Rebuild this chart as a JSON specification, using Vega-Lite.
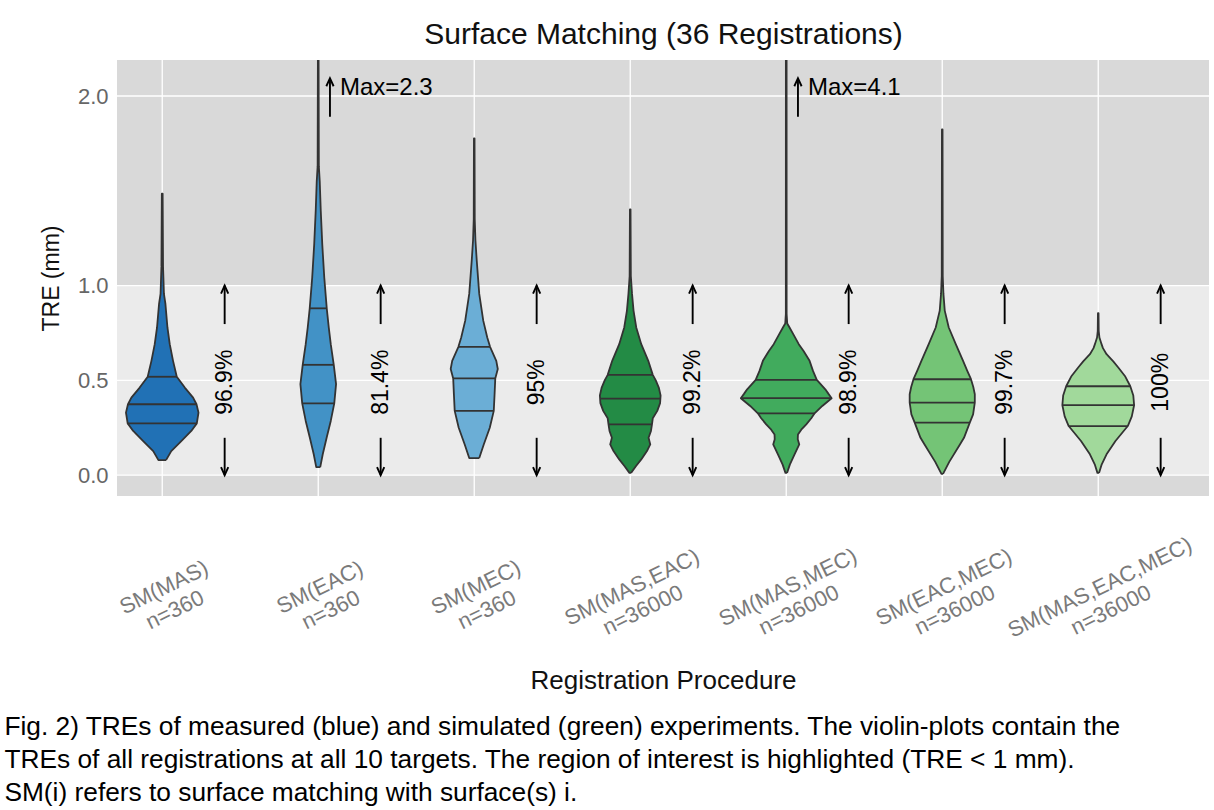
{
"$schema": "https://vega.github.io/schema/vega-lite/v6.json",
"width": 1214, "height": 810,
"autosize": {"type": "fit", "contains": "padding"},
"padding": {"left": 4, "right": 4, "top": 19, "bottom": 4},
"background": "white",
"title": {"text": ["Fig. 2) TREs of measured (blue) and simulated (green) experiments. The violin-plots contain the", "TREs of all registrations at all 10 targets. The region of interest is highlighted (TRE < 1 mm).", "SM(i) refers to surface matching with surface(s) i."], "orient": "bottom", "anchor": "start", "frame": "bounds", "font": "Liberation Sans", "fontSize": 26.3, "fontWeight": "normal", "color": "#000000", "lineHeight": 33, "offset": 20, "dx": -36},
"datasets": {
"band": [{"v": 0, "v2": 1}],
"grid": [{"v": 0}, {"v": 0.5}, {"v": 1}, {"v": 2}],
"groups": [{"g": "MAS", "pct": "96.9%"}, {"g": "EAC", "pct": "81.4%"}, {"g": "MEC", "pct": "95%"}, {"g": "MAS,EAC", "pct": "99.2%"}, {"g": "MAS,MEC", "pct": "98.9%"}, {"g": "EAC,MEC", "pct": "99.7%"}, {"g": "MAS,EAC,MEC", "pct": "100%"}],
"arrows": [
{"g": "MAS", "v": 0.797, "v2": 1.0, "head": "up"}, {"g": "MAS", "v": 0.197, "v2": 0, "head": "down"},
{"g": "EAC", "v": 0.797, "v2": 1.0, "head": "up"}, {"g": "EAC", "v": 0.197, "v2": 0, "head": "down"},
{"g": "MEC", "v": 0.797, "v2": 1.0, "head": "up"}, {"g": "MEC", "v": 0.197, "v2": 0, "head": "down"},
{"g": "MAS,EAC", "v": 0.797, "v2": 1.0, "head": "up"}, {"g": "MAS,EAC", "v": 0.197, "v2": 0, "head": "down"},
{"g": "MAS,MEC", "v": 0.797, "v2": 1.0, "head": "up"}, {"g": "MAS,MEC", "v": 0.197, "v2": 0, "head": "down"},
{"g": "EAC,MEC", "v": 0.797, "v2": 1.0, "head": "up"}, {"g": "EAC,MEC", "v": 0.197, "v2": 0, "head": "down"},
{"g": "MAS,EAC,MEC", "v": 0.797, "v2": 1.0, "head": "up"}, {"g": "MAS,EAC,MEC", "v": 0.197, "v2": 0, "head": "down"}],
"maxes": [{"g": "EAC", "v": 1.89, "v2": 2.094, "head": "up", "txt": "Max=2.3"}, {"g": "MAS,MEC", "v": 1.89, "v2": 2.094, "head": "up", "txt": "Max=4.1"}],
"vio": [
{"g":"MAS","v":0.079,"w":0.038},{"g":"MAS","v":0.127,"w":0.09},{"g":"MAS","v":0.18,"w":0.19},{"g":"MAS","v":0.233,"w":0.29},{"g":"MAS","v":0.273,"w":0.345},{"g":"MAS","v":0.33,"w":0.362},{"g":"MAS","v":0.374,"w":0.342},{"g":"MAS","v":0.409,"w":0.308},{"g":"MAS","v":0.462,"w":0.225},{"g":"MAS","v":0.519,"w":0.145},{"g":"MAS","v":0.603,"w":0.108},{"g":"MAS","v":0.691,"w":0.075},{"g":"MAS","v":0.779,"w":0.052},{"g":"MAS","v":0.903,"w":0.032},{"g":"MAS","v":0.956,"w":0.017},{"g":"MAS","v":1.1,"w":0.008},{"g":"MAS","v":1.485,"w":0.004},
{"g":"MAS","v":1.485,"w":-0.004},{"g":"MAS","v":1.1,"w":-0.008},{"g":"MAS","v":0.956,"w":-0.017},{"g":"MAS","v":0.903,"w":-0.032},{"g":"MAS","v":0.779,"w":-0.052},{"g":"MAS","v":0.691,"w":-0.075},{"g":"MAS","v":0.603,"w":-0.108},{"g":"MAS","v":0.519,"w":-0.145},{"g":"MAS","v":0.462,"w":-0.225},{"g":"MAS","v":0.409,"w":-0.308},{"g":"MAS","v":0.374,"w":-0.342},{"g":"MAS","v":0.33,"w":-0.362},{"g":"MAS","v":0.273,"w":-0.345},{"g":"MAS","v":0.233,"w":-0.29},{"g":"MAS","v":0.18,"w":-0.19},{"g":"MAS","v":0.127,"w":-0.09},{"g":"MAS","v":0.079,"w":-0.038},{"g":"MAS","v":0.079,"w":0.038},
{"g":"EAC","v":0.042,"w":0.02},{"g":"EAC","v":0.11,"w":0.045},{"g":"EAC","v":0.2,"w":0.085},{"g":"EAC","v":0.286,"w":0.125},{"g":"EAC","v":0.379,"w":0.16},{"g":"EAC","v":0.48,"w":0.178},{"g":"EAC","v":0.582,"w":0.155},{"g":"EAC","v":0.691,"w":0.125},{"g":"EAC","v":0.779,"w":0.105},{"g":"EAC","v":0.88,"w":0.085},{"g":"EAC","v":1.044,"w":0.06},{"g":"EAC","v":1.22,"w":0.04},{"g":"EAC","v":1.397,"w":0.025},{"g":"EAC","v":1.55,"w":0.015},{"g":"EAC","v":1.63,"w":0.006},{"g":"EAC","v":2.3,"w":0.003},
{"g":"EAC","v":2.3,"w":-0.003},{"g":"EAC","v":1.63,"w":-0.006},{"g":"EAC","v":1.55,"w":-0.015},{"g":"EAC","v":1.397,"w":-0.025},{"g":"EAC","v":1.22,"w":-0.04},{"g":"EAC","v":1.044,"w":-0.06},{"g":"EAC","v":0.88,"w":-0.085},{"g":"EAC","v":0.779,"w":-0.105},{"g":"EAC","v":0.691,"w":-0.125},{"g":"EAC","v":0.582,"w":-0.155},{"g":"EAC","v":0.48,"w":-0.178},{"g":"EAC","v":0.379,"w":-0.16},{"g":"EAC","v":0.286,"w":-0.125},{"g":"EAC","v":0.2,"w":-0.085},{"g":"EAC","v":0.11,"w":-0.045},{"g":"EAC","v":0.042,"w":-0.02},{"g":"EAC","v":0.042,"w":0.02},
{"g":"MEC","v":0.09,"w":0.05},{"g":"MEC","v":0.162,"w":0.095},{"g":"MEC","v":0.25,"w":0.155},{"g":"MEC","v":0.339,"w":0.195},{"g":"MEC","v":0.427,"w":0.203},{"g":"MEC","v":0.51,"w":0.21},{"g":"MEC","v":0.56,"w":0.235},{"g":"MEC","v":0.603,"w":0.22},{"g":"MEC","v":0.677,"w":0.158},{"g":"MEC","v":0.726,"w":0.13},{"g":"MEC","v":0.815,"w":0.09},{"g":"MEC","v":0.956,"w":0.05},{"g":"MEC","v":1.132,"w":0.025},{"g":"MEC","v":1.238,"w":0.012},{"g":"MEC","v":1.35,"w":0.005},{"g":"MEC","v":1.776,"w":0.003},
{"g":"MEC","v":1.776,"w":-0.003},{"g":"MEC","v":1.35,"w":-0.005},{"g":"MEC","v":1.238,"w":-0.012},{"g":"MEC","v":1.132,"w":-0.025},{"g":"MEC","v":0.956,"w":-0.05},{"g":"MEC","v":0.815,"w":-0.09},{"g":"MEC","v":0.726,"w":-0.13},{"g":"MEC","v":0.677,"w":-0.158},{"g":"MEC","v":0.603,"w":-0.22},{"g":"MEC","v":0.56,"w":-0.235},{"g":"MEC","v":0.51,"w":-0.21},{"g":"MEC","v":0.427,"w":-0.203},{"g":"MEC","v":0.339,"w":-0.195},{"g":"MEC","v":0.25,"w":-0.155},{"g":"MEC","v":0.162,"w":-0.095},{"g":"MEC","v":0.09,"w":-0.05},{"g":"MEC","v":0.09,"w":0.05},
{"g":"MAS,EAC","v":0.012,"w":0.008},{"g":"MAS,EAC","v":0.048,"w":0.058},{"g":"MAS,EAC","v":0.083,"w":0.11},{"g":"MAS,EAC","v":0.127,"w":0.167},{"g":"MAS,EAC","v":0.162,"w":0.2},{"g":"MAS,EAC","v":0.197,"w":0.183},{"g":"MAS,EAC","v":0.233,"w":0.207},{"g":"MAS,EAC","v":0.268,"w":0.217},{"g":"MAS,EAC","v":0.3,"w":0.225},{"g":"MAS,EAC","v":0.339,"w":0.27},{"g":"MAS,EAC","v":0.38,"w":0.298},{"g":"MAS,EAC","v":0.42,"w":0.303},{"g":"MAS,EAC","v":0.462,"w":0.285},{"g":"MAS,EAC","v":0.5,"w":0.255},{"g":"MAS,EAC","v":0.529,"w":0.225},{"g":"MAS,EAC","v":0.603,"w":0.18},{"g":"MAS,EAC","v":0.691,"w":0.11},{"g":"MAS,EAC","v":0.779,"w":0.06},{"g":"MAS,EAC","v":0.868,"w":0.033},{"g":"MAS,EAC","v":0.956,"w":0.018},{"g":"MAS,EAC","v":1.05,"w":0.006},{"g":"MAS,EAC","v":1.402,"w":0.003},
{"g":"MAS,EAC","v":1.402,"w":-0.003},{"g":"MAS,EAC","v":1.05,"w":-0.006},{"g":"MAS,EAC","v":0.956,"w":-0.018},{"g":"MAS,EAC","v":0.868,"w":-0.033},{"g":"MAS,EAC","v":0.779,"w":-0.06},{"g":"MAS,EAC","v":0.691,"w":-0.11},{"g":"MAS,EAC","v":0.603,"w":-0.18},{"g":"MAS,EAC","v":0.529,"w":-0.225},{"g":"MAS,EAC","v":0.5,"w":-0.255},{"g":"MAS,EAC","v":0.462,"w":-0.285},{"g":"MAS,EAC","v":0.42,"w":-0.303},{"g":"MAS,EAC","v":0.38,"w":-0.298},{"g":"MAS,EAC","v":0.339,"w":-0.27},{"g":"MAS,EAC","v":0.3,"w":-0.225},{"g":"MAS,EAC","v":0.268,"w":-0.217},{"g":"MAS,EAC","v":0.233,"w":-0.207},{"g":"MAS,EAC","v":0.197,"w":-0.183},{"g":"MAS,EAC","v":0.162,"w":-0.2},{"g":"MAS,EAC","v":0.127,"w":-0.167},{"g":"MAS,EAC","v":0.083,"w":-0.11},{"g":"MAS,EAC","v":0.048,"w":-0.058},{"g":"MAS,EAC","v":0.012,"w":-0.008},{"g":"MAS,EAC","v":0.012,"w":0.008},
{"g":"MAS,MEC","v":0.012,"w":0.008},{"g":"MAS,MEC","v":0.057,"w":0.037},{"g":"MAS,MEC","v":0.11,"w":0.083},{"g":"MAS,MEC","v":0.162,"w":0.13},{"g":"MAS,MEC","v":0.19,"w":0.115},{"g":"MAS,MEC","v":0.215,"w":0.117},{"g":"MAS,MEC","v":0.24,"w":0.15},{"g":"MAS,MEC","v":0.268,"w":0.2},{"g":"MAS,MEC","v":0.3,"w":0.25},{"g":"MAS,MEC","v":0.326,"w":0.283},{"g":"MAS,MEC","v":0.365,"w":0.36},{"g":"MAS,MEC","v":0.406,"w":0.453},{"g":"MAS,MEC","v":0.43,"w":0.42},{"g":"MAS,MEC","v":0.453,"w":0.39},{"g":"MAS,MEC","v":0.503,"w":0.305},{"g":"MAS,MEC","v":0.55,"w":0.267},{"g":"MAS,MEC","v":0.603,"w":0.233},{"g":"MAS,MEC","v":0.655,"w":0.173},{"g":"MAS,MEC","v":0.691,"w":0.125},{"g":"MAS,MEC","v":0.744,"w":0.07},{"g":"MAS,MEC","v":0.779,"w":0.033},{"g":"MAS,MEC","v":0.8,"w":0.01},{"g":"MAS,MEC","v":0.85,"w":0.004},{"g":"MAS,MEC","v":4.1,"w":0.003},
{"g":"MAS,MEC","v":4.1,"w":-0.003},{"g":"MAS,MEC","v":0.85,"w":-0.004},{"g":"MAS,MEC","v":0.8,"w":-0.01},{"g":"MAS,MEC","v":0.779,"w":-0.033},{"g":"MAS,MEC","v":0.744,"w":-0.07},{"g":"MAS,MEC","v":0.691,"w":-0.125},{"g":"MAS,MEC","v":0.655,"w":-0.173},{"g":"MAS,MEC","v":0.603,"w":-0.233},{"g":"MAS,MEC","v":0.55,"w":-0.267},{"g":"MAS,MEC","v":0.503,"w":-0.305},{"g":"MAS,MEC","v":0.453,"w":-0.39},{"g":"MAS,MEC","v":0.43,"w":-0.42},{"g":"MAS,MEC","v":0.406,"w":-0.453},{"g":"MAS,MEC","v":0.365,"w":-0.36},{"g":"MAS,MEC","v":0.326,"w":-0.283},{"g":"MAS,MEC","v":0.3,"w":-0.25},{"g":"MAS,MEC","v":0.268,"w":-0.2},{"g":"MAS,MEC","v":0.24,"w":-0.15},{"g":"MAS,MEC","v":0.215,"w":-0.117},{"g":"MAS,MEC","v":0.19,"w":-0.115},{"g":"MAS,MEC","v":0.162,"w":-0.13},{"g":"MAS,MEC","v":0.11,"w":-0.083},{"g":"MAS,MEC","v":0.057,"w":-0.037},{"g":"MAS,MEC","v":0.012,"w":-0.008},{"g":"MAS,MEC","v":0.012,"w":0.008},
{"g":"EAC,MEC","v":0.007,"w":0.008},{"g":"EAC,MEC","v":0.07,"w":0.07},{"g":"EAC,MEC","v":0.16,"w":0.175},{"g":"EAC,MEC","v":0.197,"w":0.217},{"g":"EAC,MEC","v":0.277,"w":0.275},{"g":"EAC,MEC","v":0.321,"w":0.308},{"g":"EAC,MEC","v":0.383,"w":0.325},{"g":"EAC,MEC","v":0.427,"w":0.325},{"g":"EAC,MEC","v":0.465,"w":0.31},{"g":"EAC,MEC","v":0.506,"w":0.287},{"g":"EAC,MEC","v":0.55,"w":0.25},{"g":"EAC,MEC","v":0.603,"w":0.208},{"g":"EAC,MEC","v":0.691,"w":0.135},{"g":"EAC,MEC","v":0.779,"w":0.065},{"g":"EAC,MEC","v":0.868,"w":0.025},{"g":"EAC,MEC","v":0.956,"w":0.012},{"g":"EAC,MEC","v":1.05,"w":0.005},{"g":"EAC,MEC","v":1.824,"w":0.003},
{"g":"EAC,MEC","v":1.824,"w":-0.003},{"g":"EAC,MEC","v":1.05,"w":-0.005},{"g":"EAC,MEC","v":0.956,"w":-0.012},{"g":"EAC,MEC","v":0.868,"w":-0.025},{"g":"EAC,MEC","v":0.779,"w":-0.065},{"g":"EAC,MEC","v":0.691,"w":-0.135},{"g":"EAC,MEC","v":0.603,"w":-0.208},{"g":"EAC,MEC","v":0.55,"w":-0.25},{"g":"EAC,MEC","v":0.506,"w":-0.287},{"g":"EAC,MEC","v":0.465,"w":-0.31},{"g":"EAC,MEC","v":0.427,"w":-0.325},{"g":"EAC,MEC","v":0.383,"w":-0.325},{"g":"EAC,MEC","v":0.321,"w":-0.308},{"g":"EAC,MEC","v":0.277,"w":-0.275},{"g":"EAC,MEC","v":0.197,"w":-0.217},{"g":"EAC,MEC","v":0.16,"w":-0.175},{"g":"EAC,MEC","v":0.07,"w":-0.07},{"g":"EAC,MEC","v":0.007,"w":-0.008},{"g":"EAC,MEC","v":0.007,"w":0.008},
{"g":"MAS,EAC,MEC","v":0.012,"w":0.008},{"g":"MAS,EAC,MEC","v":0.057,"w":0.035},{"g":"MAS,EAC,MEC","v":0.11,"w":0.083},{"g":"MAS,EAC,MEC","v":0.18,"w":0.172},{"g":"MAS,EAC,MEC","v":0.259,"w":0.295},{"g":"MAS,EAC,MEC","v":0.31,"w":0.335},{"g":"MAS,EAC,MEC","v":0.369,"w":0.358},{"g":"MAS,EAC,MEC","v":0.42,"w":0.35},{"g":"MAS,EAC,MEC","v":0.469,"w":0.32},{"g":"MAS,EAC,MEC","v":0.52,"w":0.27},{"g":"MAS,EAC,MEC","v":0.568,"w":0.2},{"g":"MAS,EAC,MEC","v":0.6,"w":0.15},{"g":"MAS,EAC,MEC","v":0.638,"w":0.083},{"g":"MAS,EAC,MEC","v":0.67,"w":0.047},{"g":"MAS,EAC,MEC","v":0.691,"w":0.033},{"g":"MAS,EAC,MEC","v":0.726,"w":0.012},{"g":"MAS,EAC,MEC","v":0.76,"w":0.005},{"g":"MAS,EAC,MEC","v":0.854,"w":0.003},
{"g":"MAS,EAC,MEC","v":0.854,"w":-0.003},{"g":"MAS,EAC,MEC","v":0.76,"w":-0.005},{"g":"MAS,EAC,MEC","v":0.726,"w":-0.012},{"g":"MAS,EAC,MEC","v":0.691,"w":-0.033},{"g":"MAS,EAC,MEC","v":0.67,"w":-0.047},{"g":"MAS,EAC,MEC","v":0.638,"w":-0.083},{"g":"MAS,EAC,MEC","v":0.6,"w":-0.15},{"g":"MAS,EAC,MEC","v":0.568,"w":-0.2},{"g":"MAS,EAC,MEC","v":0.52,"w":-0.27},{"g":"MAS,EAC,MEC","v":0.469,"w":-0.32},{"g":"MAS,EAC,MEC","v":0.42,"w":-0.35},{"g":"MAS,EAC,MEC","v":0.369,"w":-0.358},{"g":"MAS,EAC,MEC","v":0.31,"w":-0.335},{"g":"MAS,EAC,MEC","v":0.259,"w":-0.295},{"g":"MAS,EAC,MEC","v":0.18,"w":-0.172},{"g":"MAS,EAC,MEC","v":0.11,"w":-0.083},{"g":"MAS,EAC,MEC","v":0.057,"w":-0.035},{"g":"MAS,EAC,MEC","v":0.012,"w":-0.008},{"g":"MAS,EAC,MEC","v":0.012,"w":0.008}
],
"qs": [
{"g":"MAS","q":25,"v":0.273,"w":-0.345},{"g":"MAS","q":25,"v":0.273,"w":0.345},{"g":"MAS","q":50,"v":0.374,"w":-0.342},{"g":"MAS","q":50,"v":0.374,"w":0.342},{"g":"MAS","q":75,"v":0.519,"w":-0.145},{"g":"MAS","q":75,"v":0.519,"w":0.145},
{"g":"EAC","q":25,"v":0.379,"w":-0.16},{"g":"EAC","q":25,"v":0.379,"w":0.16},{"g":"EAC","q":50,"v":0.582,"w":-0.155},{"g":"EAC","q":50,"v":0.582,"w":0.155},{"g":"EAC","q":75,"v":0.88,"w":-0.085},{"g":"EAC","q":75,"v":0.88,"w":0.085},
{"g":"MEC","q":25,"v":0.339,"w":-0.195},{"g":"MEC","q":25,"v":0.339,"w":0.195},{"g":"MEC","q":50,"v":0.51,"w":-0.21},{"g":"MEC","q":50,"v":0.51,"w":0.21},{"g":"MEC","q":75,"v":0.677,"w":-0.158},{"g":"MEC","q":75,"v":0.677,"w":0.158},
{"g":"MAS,EAC","q":25,"v":0.268,"w":-0.217},{"g":"MAS,EAC","q":25,"v":0.268,"w":0.217},{"g":"MAS,EAC","q":50,"v":0.404,"w":-0.301},{"g":"MAS,EAC","q":50,"v":0.404,"w":0.301},{"g":"MAS,EAC","q":75,"v":0.529,"w":-0.225},{"g":"MAS,EAC","q":75,"v":0.529,"w":0.225},
{"g":"MAS,MEC","q":25,"v":0.326,"w":-0.283},{"g":"MAS,MEC","q":25,"v":0.326,"w":0.283},{"g":"MAS,MEC","q":50,"v":0.406,"w":-0.453},{"g":"MAS,MEC","q":50,"v":0.406,"w":0.453},{"g":"MAS,MEC","q":75,"v":0.503,"w":-0.305},{"g":"MAS,MEC","q":75,"v":0.503,"w":0.305},
{"g":"EAC,MEC","q":25,"v":0.277,"w":-0.275},{"g":"EAC,MEC","q":25,"v":0.277,"w":0.275},{"g":"EAC,MEC","q":50,"v":0.383,"w":-0.325},{"g":"EAC,MEC","q":50,"v":0.383,"w":0.325},{"g":"EAC,MEC","q":75,"v":0.506,"w":-0.287},{"g":"EAC,MEC","q":75,"v":0.506,"w":0.287},
{"g":"MAS,EAC,MEC","q":25,"v":0.259,"w":-0.295},{"g":"MAS,EAC,MEC","q":25,"v":0.259,"w":0.295},{"g":"MAS,EAC,MEC","q":50,"v":0.369,"w":-0.358},{"g":"MAS,EAC,MEC","q":50,"v":0.369,"w":0.358},{"g":"MAS,EAC,MEC","q":75,"v":0.469,"w":-0.32},{"g":"MAS,EAC,MEC","q":75,"v":0.469,"w":0.32}
]
},
"layer": [
{
"data": {"name": "band"},
"mark": {"type": "rect", "color": "#ebebeb"},
"encoding": {
"y": {"field": "v", "type": "quantitative", "scale": {"domain": [-0.11, 2.19], "nice": false, "zero": false},
"axis": {"title": "TRE (mm)", "values": [0, 0.5, 1, 2], "format": ".1f", "labelFont": "Liberation Sans", "labelFontSize": 22, "labelColor": "#666666", "labelPadding": 9, "ticks": false, "domain": false, "grid": false, "titleFont": "Liberation Sans", "titleFontSize": 23, "titleFontWeight": "normal", "titleColor": "#111111", "titlePadding": 14}},
"y2": {"field": "v2"}
}
},
{
"data": {"name": "grid"},
"mark": {"type": "rule", "color": "#ffffff", "strokeWidth": 1.3},
"encoding": {
"y": {"field": "v", "type": "quantitative", "scale": {"domain": [-0.11, 2.19], "nice": false, "zero": false},
"axis": {"title": "TRE (mm)", "values": [0, 0.5, 1, 2], "format": ".1f", "labelFont": "Liberation Sans", "labelFontSize": 22, "labelColor": "#666666", "labelPadding": 9, "ticks": false, "domain": false, "grid": false, "titleFont": "Liberation Sans", "titleFontSize": 23, "titleFontWeight": "normal", "titleColor": "#111111", "titlePadding": 14}}
}
},
{
"data": {"name": "groups"},
"mark": {"type": "rule", "color": "#ffffff", "strokeWidth": 1.3},
"encoding": {
"x": {"field": "g", "type": "nominal", "scale": {"type": "band", "domain": ["MAS", "EAC", "MEC", "MAS,EAC", "MAS,MEC", "EAC,MEC", "MAS,EAC,MEC"], "paddingInner": 0, "paddingOuter": 0},
"axis": {"orient": "bottom", "title": "Registration Procedure", "bandPosition": 0.29, "labelExpr": "['SM(' + datum.value + ')', indexof(datum.value, ',') >= 0 ? 'n=36000' : 'n=360']", "labelAngle": -26, "labelAlign": "center", "labelBaseline": "middle", "labelPadding": 91, "labelOffset": -31, "labelLimit": 0, "labelFont": "Liberation Sans", "labelFontSize": 22, "labelColor": "#7a7a7a", "labelLineHeight": 25, "labelOverlap": false, "labelBound": false, "labelFlush": false, "ticks": false, "tickSize": 0, "domain": false, "grid": false, "titleFont": "Liberation Sans", "titleFontSize": 26, "titleFontWeight": "normal", "titleColor": "#111111", "titlePadding": 4}},
"xOffset": {"datum": 0, "type": "quantitative", "scale": {"domain": [-0.4515, 1.1055], "nice": false, "zero": false}}
}
},
{
"data": {"name": "vio"},
"mark": {"type": "line", "filled": true, "stroke": "#333333", "strokeWidth": 1.8, "strokeJoin": "round", "clip": true},
"encoding": {
"x": {"field": "g", "type": "nominal", "scale": {"type": "band", "domain": ["MAS", "EAC", "MEC", "MAS,EAC", "MAS,MEC", "EAC,MEC", "MAS,EAC,MEC"], "paddingInner": 0, "paddingOuter": 0}, "axis": null},
"xOffset": {"field": "w", "type": "quantitative", "scale": {"domain": [-0.4515, 1.1055], "nice": false, "zero": false}},
"y": {"field": "v", "type": "quantitative", "scale": {"domain": [-0.11, 2.19], "nice": false, "zero": false},
"axis": {"title": "TRE (mm)", "values": [0, 0.5, 1, 2], "format": ".1f", "labelFont": "Liberation Sans", "labelFontSize": 22, "labelColor": "#666666", "labelPadding": 9, "ticks": false, "domain": false, "grid": false, "titleFont": "Liberation Sans", "titleFontSize": 23, "titleFontWeight": "normal", "titleColor": "#111111", "titlePadding": 14}},
"color": {"field": "g", "type": "nominal", "scale": {"domain": ["MAS", "EAC", "MEC", "MAS,EAC", "MAS,MEC", "EAC,MEC", "MAS,EAC,MEC"], "range": ["#2171b5", "#4292c6", "#6baed6", "#238b45", "#41ab5d", "#74c476", "#a1d99b"]}, "legend": null},
"order": {"value": null}
}
},
{
"data": {"name": "qs"},
"mark": {"type": "line", "stroke": "#333333", "strokeWidth": 1.8},
"encoding": {
"x": {"field": "g", "type": "nominal", "scale": {"type": "band", "domain": ["MAS", "EAC", "MEC", "MAS,EAC", "MAS,MEC", "EAC,MEC", "MAS,EAC,MEC"], "paddingInner": 0, "paddingOuter": 0}, "axis": null},
"xOffset": {"field": "w", "type": "quantitative", "scale": {"domain": [-0.4515, 1.1055], "nice": false, "zero": false}},
"y": {"field": "v", "type": "quantitative", "scale": {"domain": [-0.11, 2.19], "nice": false, "zero": false},
"axis": {"title": "TRE (mm)", "values": [0, 0.5, 1, 2], "format": ".1f", "labelFont": "Liberation Sans", "labelFontSize": 22, "labelColor": "#666666", "labelPadding": 9, "ticks": false, "domain": false, "grid": false, "titleFont": "Liberation Sans", "titleFontSize": 23, "titleFontWeight": "normal", "titleColor": "#111111", "titlePadding": 14}},
"detail": [{"field": "g"}, {"field": "q"}]
}
},
{
"data": {"name": "arrows"},
"mark": {"type": "rule", "color": "#000000", "strokeWidth": 1.9},
"encoding": {
"x": {"field": "g", "type": "nominal", "scale": {"type": "band", "domain": ["MAS", "EAC", "MEC", "MAS,EAC", "MAS,MEC", "EAC,MEC", "MAS,EAC,MEC"], "paddingInner": 0, "paddingOuter": 0}, "axis": null},
"xOffset": {"datum": 0.623, "type": "quantitative", "scale": {"domain": [-0.4515, 1.1055], "nice": false, "zero": false}},
"y": {"field": "v", "type": "quantitative", "scale": {"domain": [-0.11, 2.19], "nice": false, "zero": false},
"axis": {"title": "TRE (mm)", "values": [0, 0.5, 1, 2], "format": ".1f", "labelFont": "Liberation Sans", "labelFontSize": 22, "labelColor": "#666666", "labelPadding": 9, "ticks": false, "domain": false, "grid": false, "titleFont": "Liberation Sans", "titleFontSize": 23, "titleFontWeight": "normal", "titleColor": "#111111", "titlePadding": 14}},
"y2": {"field": "v2"}
}
},
{
"data": {"name": "arrows"},
"mark": {"type": "point", "filled": false, "stroke": "#000000", "strokeWidth": 1.9, "opacity": 1, "size": 260},
"encoding": {
"x": {"field": "g", "type": "nominal", "scale": {"type": "band", "domain": ["MAS", "EAC", "MEC", "MAS,EAC", "MAS,MEC", "EAC,MEC", "MAS,EAC,MEC"], "paddingInner": 0, "paddingOuter": 0}, "axis": null},
"xOffset": {"datum": 0.623, "type": "quantitative", "scale": {"domain": [-0.4515, 1.1055], "nice": false, "zero": false}},
"y": {"field": "v2", "type": "quantitative", "scale": {"domain": [-0.11, 2.19], "nice": false, "zero": false},
"axis": {"title": "TRE (mm)", "values": [0, 0.5, 1, 2], "format": ".1f", "labelFont": "Liberation Sans", "labelFontSize": 22, "labelColor": "#666666", "labelPadding": 9, "ticks": false, "domain": false, "grid": false, "titleFont": "Liberation Sans", "titleFontSize": 23, "titleFontWeight": "normal", "titleColor": "#111111", "titlePadding": 14}},
"shape": {"field": "head", "type": "nominal", "scale": {"domain": ["up", "down"], "range": ["M-0.45,1L0,0L0.45,1", "M-0.45,-1L0,0L0.45,-1"]}, "legend": null}
}
},
{
"data": {"name": "groups"},
"mark": {"type": "text", "angle": 270, "font": "Liberation Sans", "fontSize": 23, "color": "#000000", "align": "center", "baseline": "middle"},
"encoding": {
"x": {"field": "g", "type": "nominal", "scale": {"type": "band", "domain": ["MAS", "EAC", "MEC", "MAS,EAC", "MAS,MEC", "EAC,MEC", "MAS,EAC,MEC"], "paddingInner": 0, "paddingOuter": 0},
"axis": {"orient": "top", "title": "Surface Matching (36 Registrations)", "labels": false, "ticks": false, "domain": false, "grid": false, "titleFont": "Liberation Sans", "titleFontSize": 30, "titleFontWeight": "normal", "titleColor": "#111111", "titlePadding": 11}},
"xOffset": {"datum": 0.623, "type": "quantitative", "scale": {"domain": [-0.4515, 1.1055], "nice": false, "zero": false}},
"y": {"datum": 0.49, "type": "quantitative", "scale": {"domain": [-0.11, 2.19], "nice": false, "zero": false},
"axis": {"title": "TRE (mm)", "values": [0, 0.5, 1, 2], "format": ".1f", "labelFont": "Liberation Sans", "labelFontSize": 22, "labelColor": "#666666", "labelPadding": 9, "ticks": false, "domain": false, "grid": false, "titleFont": "Liberation Sans", "titleFontSize": 23, "titleFontWeight": "normal", "titleColor": "#111111", "titlePadding": 14}},
"text": {"field": "pct"}
}
},
{
"data": {"name": "maxes"},
"mark": {"type": "rule", "color": "#000000", "strokeWidth": 1.9},
"encoding": {
"x": {"field": "g", "type": "nominal", "scale": {"type": "band", "domain": ["MAS", "EAC", "MEC", "MAS,EAC", "MAS,MEC", "EAC,MEC", "MAS,EAC,MEC"], "paddingInner": 0, "paddingOuter": 0}, "axis": null},
"xOffset": {"datum": 0.117, "type": "quantitative", "scale": {"domain": [-0.4515, 1.1055], "nice": false, "zero": false}},
"y": {"field": "v", "type": "quantitative", "scale": {"domain": [-0.11, 2.19], "nice": false, "zero": false},
"axis": {"title": "TRE (mm)", "values": [0, 0.5, 1, 2], "format": ".1f", "labelFont": "Liberation Sans", "labelFontSize": 22, "labelColor": "#666666", "labelPadding": 9, "ticks": false, "domain": false, "grid": false, "titleFont": "Liberation Sans", "titleFontSize": 23, "titleFontWeight": "normal", "titleColor": "#111111", "titlePadding": 14}},
"y2": {"field": "v2"}
}
},
{
"data": {"name": "maxes"},
"mark": {"type": "point", "filled": false, "stroke": "#000000", "strokeWidth": 1.9, "opacity": 1, "size": 260},
"encoding": {
"x": {"field": "g", "type": "nominal", "scale": {"type": "band", "domain": ["MAS", "EAC", "MEC", "MAS,EAC", "MAS,MEC", "EAC,MEC", "MAS,EAC,MEC"], "paddingInner": 0, "paddingOuter": 0}, "axis": null},
"xOffset": {"datum": 0.117, "type": "quantitative", "scale": {"domain": [-0.4515, 1.1055], "nice": false, "zero": false}},
"y": {"field": "v2", "type": "quantitative", "scale": {"domain": [-0.11, 2.19], "nice": false, "zero": false},
"axis": {"title": "TRE (mm)", "values": [0, 0.5, 1, 2], "format": ".1f", "labelFont": "Liberation Sans", "labelFontSize": 22, "labelColor": "#666666", "labelPadding": 9, "ticks": false, "domain": false, "grid": false, "titleFont": "Liberation Sans", "titleFontSize": 23, "titleFontWeight": "normal", "titleColor": "#111111", "titlePadding": 14}},
"shape": {"field": "head", "type": "nominal", "scale": {"domain": ["up", "down"], "range": ["M-0.45,1L0,0L0.45,1", "M-0.45,-1L0,0L0.45,-1"]}, "legend": null}
}
},
{
"data": {"name": "maxes"},
"mark": {"type": "text", "font": "Liberation Sans", "fontSize": 24, "color": "#000000", "align": "left", "baseline": "middle"},
"encoding": {
"x": {"field": "g", "type": "nominal", "scale": {"type": "band", "domain": ["MAS", "EAC", "MEC", "MAS,EAC", "MAS,MEC", "EAC,MEC", "MAS,EAC,MEC"], "paddingInner": 0, "paddingOuter": 0}, "axis": null},
"xOffset": {"datum": 0.217, "type": "quantitative", "scale": {"domain": [-0.4515, 1.1055], "nice": false, "zero": false}},
"y": {"datum": 2.042, "type": "quantitative", "scale": {"domain": [-0.11, 2.19], "nice": false, "zero": false},
"axis": {"title": "TRE (mm)", "values": [0, 0.5, 1, 2], "format": ".1f", "labelFont": "Liberation Sans", "labelFontSize": 22, "labelColor": "#666666", "labelPadding": 9, "ticks": false, "domain": false, "grid": false, "titleFont": "Liberation Sans", "titleFontSize": 23, "titleFontWeight": "normal", "titleColor": "#111111", "titlePadding": 14}},
"text": {"field": "txt"}
}
}
],
"resolve": {"axis": {"x": "independent"}},
"config": {"view": {"fill": "#d9d9d9", "stroke": null}, "font": "Liberation Sans"}
}
